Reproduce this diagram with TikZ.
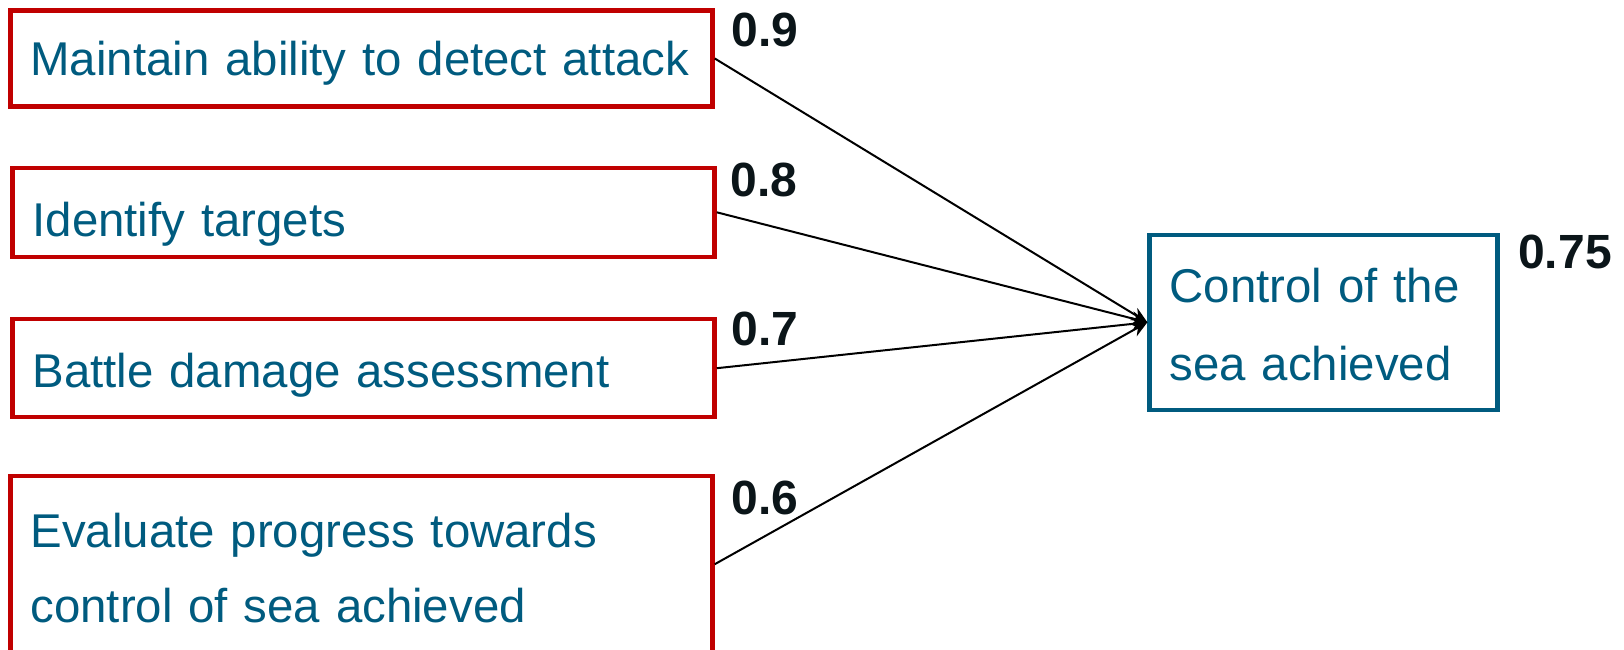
\documentclass[tikz,border=0pt]{standalone}
\usepackage{fontspec}
\setmainfont{Liberation Sans}
\usetikzlibrary{arrows.meta}
\definecolor{txtblue}{HTML}{005B7F}
\definecolor{boxred}{HTML}{C00000}
\definecolor{lblblack}{HTML}{0B1519}
\begin{document}
\begin{tikzpicture}[x=1pt,y=-1pt,
  srcbox/.style={draw=boxred, line width=4.5pt, rectangle, minimum width=702pt,
    text width=662pt, inner xsep=20pt, inner ysep=0pt, align=left,
    font=\fontsize{47.4}{75}\selectfont, text=txtblue, text depth=0pt},
  tgtbox/.style={draw=txtblue, line width=4.5pt, rectangle, minimum width=348pt,
    minimum height=175pt, text width=308pt, inner xsep=20pt, inner ysep=0pt,
    align=left, font=\fontsize{47.4}{78}\selectfont, text=txtblue,
    text height=36pt, text depth=76pt},
  lbl/.style={font=\bfseries\fontsize{48}{58}\selectfont, text=lblblack, inner sep=0pt},
  arr/.style={draw=black, line width=2pt, -{Stealth[length=16pt,width=14pt]}}
]
\useasboundingbox (0,0) rectangle (1624,650);
\clip (0,0) rectangle (1624,650);
\node[srcbox, minimum height=96pt, text height=34pt] (b1) at (361.5,58.5) {\mbox{Maintain ability to detect attack}};
\node[srcbox, minimum height=89pt, text height=47.4pt] (b2) at (363.5,212.3) {Identify targets};
\node[srcbox, minimum height=98pt, text height=39pt] (b3) at (363.5,368.2) {Battle damage assessment};
\node[srcbox, minimum height=176pt, text height=36pt, text depth=70pt] (b4) at (361.5,564.2) {Evaluate progress towards\\control of sea achieved};
\node[tgtbox] (t) at (1323.6,322.3) {Control of the\\sea achieved};
\node[lbl] (l1) at (765,29.5) {0.9};
\node[lbl] (l2) at (764,180) {0.8};
\node[lbl] (l3) at (765,329) {0.7};
\node[lbl] (l4) at (765,497.5) {0.6};
\node[lbl] (l5) at (1565,252) {0.75};
\draw[arr] (b1.east) -- (t.west);
\draw[arr] (b2.east) -- (t.west);
\draw[arr] (b3.east) -- (t.west);
\draw[arr] (b4.east) -- (t.west);
\end{tikzpicture}
\end{document}
